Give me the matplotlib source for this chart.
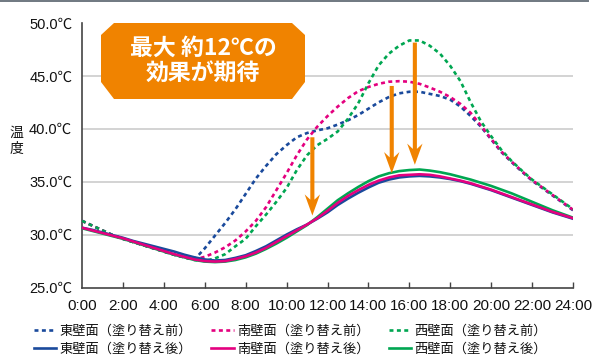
import matplotlib
matplotlib.use("Agg")
import matplotlib.pyplot as plt
from matplotlib.patches import Polygon
from matplotlib.lines import Line2D
import numpy as np

# ---------------- data ----------------
hours = [h * 0.5 for h in range(49)]  # 0:00 .. 24:00 every 30 min

east_before = [31.3, 30.85, 30.4, 29.95, 29.6, 29.3, 29.0, 28.7, 28.4, 28.1, 27.85, 27.65,
               28.7, 29.9, 31.1, 32.4, 33.85, 35.3, 36.5, 37.6, 38.45, 39.2, 39.6, 39.85,
               40.05, 40.4, 40.8, 41.3, 41.9, 42.5, 43.0, 43.35, 43.5, 43.5, 43.3, 43.1,
               42.75, 42.1, 41.2, 40.2, 39.0, 37.8, 36.85, 35.95, 35.1, 34.4, 33.7, 33.0, 32.3]
south_before = [31.3, 30.85, 30.4, 29.95, 29.6, 29.3, 29.0, 28.7, 28.4, 28.1, 27.85, 27.65,
                27.9, 28.3, 28.8, 29.45, 30.3, 31.3, 32.6, 34.2, 35.8, 37.5, 39.0, 40.2,
                41.2, 42.1, 42.9, 43.55, 43.95, 44.25, 44.45, 44.5, 44.45, 44.25, 43.9, 43.5,
                43.0, 42.35, 41.5, 40.3, 39.05, 37.85, 36.9, 36.0, 35.15, 34.45, 33.75, 33.05, 32.35]
west_before = [31.3, 30.85, 30.4, 29.95, 29.6, 29.3, 29.0, 28.7, 28.4, 28.1, 27.85, 27.6,
               27.5, 27.75, 28.15, 28.9, 29.6, 30.8, 31.9, 33.1, 34.4, 36.1, 37.5, 38.45,
               39.05, 39.75, 40.95, 42.4, 44.3, 46.0, 47.1, 47.85, 48.35, 48.35, 47.85, 47.1,
               45.95, 44.5, 42.5, 40.7, 39.3, 38.0, 36.95, 36.05, 35.2, 34.5, 33.8, 33.1, 32.4]
east_after = [30.65, 30.45, 30.2, 29.95, 29.7, 29.4, 29.15, 28.9, 28.65, 28.4, 28.1, 27.85,
              27.65, 27.55, 27.6, 27.8, 28.05, 28.45, 28.9, 29.45, 30.0, 30.5, 30.95, 31.5,
              32.1, 32.8, 33.4, 33.95, 34.45, 34.9, 35.2, 35.4, 35.5, 35.55, 35.5, 35.4,
              35.25, 35.05, 34.8, 34.5, 34.2, 33.85, 33.5, 33.15, 32.8, 32.45, 32.1, 31.8, 31.5]
south_after = [30.65, 30.4, 30.15, 29.9, 29.65, 29.35, 29.05, 28.75, 28.45, 28.15, 27.9, 27.65,
               27.5, 27.45, 27.5, 27.7, 27.95, 28.3, 28.75, 29.3, 29.85, 30.4, 30.95, 31.55,
               32.25, 33.0, 33.65, 34.2, 34.7, 35.1, 35.4, 35.6, 35.65, 35.7, 35.65, 35.5,
               35.3, 35.1, 34.85, 34.55, 34.25, 33.9, 33.55, 33.2, 32.85, 32.5, 32.15, 31.85, 31.55]
west_after = [30.6, 30.35, 30.1, 29.85, 29.6, 29.3, 29.0, 28.7, 28.4, 28.1, 27.85, 27.6,
              27.45, 27.4, 27.45, 27.6, 27.85, 28.2, 28.65, 29.15, 29.7, 30.3, 30.9, 31.65,
              32.45, 33.25, 33.9, 34.5, 35.05, 35.5, 35.8, 36.0, 36.1, 36.15, 36.05, 35.9,
              35.7, 35.45, 35.2, 34.9, 34.6, 34.25, 33.9, 33.5, 33.1, 32.7, 32.3, 31.95, 31.6]

labels_before = ["東壁面（塗り替え前）", "南壁面（塗り替え前）", "西壁面（塗り替え前）"]
labels_after = ["東壁面（塗り替え後）", "南壁面（塗り替え後）", "西壁面（塗り替え後）"]

x_ticks = list(range(0, 25, 2))
x_ticklabels = [f"{h}:00" for h in x_ticks]
y_ticks = [25, 30, 35, 40, 45, 50]
y_ticklabels = [f"{v:.1f}℃" for v in y_ticks]

# arrows: (hour, from temp, to temp)
arrow_x = [11.26, 15.14, 16.27]
arrow_from = [39.2, 44.05, 48.15]
arrow_to = [31.8, 35.8, 36.6]

callout_text = "最大 約12℃の\n効果が期待"

# ---------------- style ----------------
BLUE = "#1a4a9c"
PINK = "#e4007f"
GREEN = "#00a651"
ORANGE = "#f08300"
colors = [BLUE, PINK, GREEN]

plt.rcParams["font.family"] = ["Liberation Sans", "Noto Sans CJK JP", "DejaVu Sans"]

W, H = 597, 362
fig = plt.figure(figsize=(W / 100, H / 100), dpi=100)
ax = fig.add_axes([82 / W, 1 - 287.5 / H, (573 - 82) / W, (287.5 - 23) / H])

ax.set_xlim(0, 24)
ax.set_ylim(25, 50)

# grid lines (inner ticks only)
ax.hlines(y_ticks[1:-1], 0, 24, colors="#cccccc", lw=1.2, zorder=0)

before = [east_before, south_before, west_before]
after = [east_after, south_after, west_after]
handles_b, handles_a = [], []
for ser, c, lab in zip(before, colors, labels_before):
    l, = ax.plot(hours, ser, color=c, lw=1.9, linestyle=(0, (1.5, 1.3)),
                 dash_capstyle="butt", label=lab, zorder=3)
    handles_b.append(l)
for ser, c, lab, z in zip(after, colors, labels_after, [3, 3.2, 3.1]):
    l, = ax.plot(hours, ser, color=c, lw=1.9, label=lab, zorder=z,
                 solid_joinstyle="round")
    handles_a.append(l)

# arrows
for xa, y0, y1 in zip(arrow_x, arrow_from, arrow_to):
    ax.arrow(xa, y0, 0, y1 - y0, width=0.2, head_width=0.75, head_length=2.0,
             length_includes_head=True, overhang=0.25, color=ORANGE, lw=0, zorder=5)

# callout box (octagon in axes-fraction coordinates)
bx0, bx1 = (101 - 82) / 491, (305 - 82) / 491
by0, by1 = (287.5 - 99) / 264.5, 1.0
cx, cyt, cyb = 13 / 491, 12 / 264.5, 17 / 264.5
poly = Polygon([(bx0 + cx, by1), (bx1 - cx, by1), (bx1, by1 - cyt), (bx1, by0 + cyb),
                (bx1 - cx, by0), (bx0 + cx, by0), (bx0, by0 + cyb), (bx0, by1 - cyt)],
               closed=True, transform=ax.transAxes, facecolor=ORANGE, edgecolor="none",
               clip_on=False, zorder=6)
ax.add_patch(poly)
ax.text((bx0 + bx1) / 2, (by0 + by1) / 2, callout_text, transform=ax.transAxes,
        ha="center", va="center", color="white", fontsize=16.5, fontweight="bold",
        family=["Noto Sans CJK JP"], linespacing=1.1, zorder=7)

# axes styling
for s in ["top", "right"]:
    ax.spines[s].set_visible(False)
for s in ["left", "bottom"]:
    ax.spines[s].set_color("#444444")
    ax.spines[s].set_linewidth(1.2)

ax.set_xticks(x_ticks)
ax.set_xticklabels(x_ticklabels)
ax.set_yticks(y_ticks)
ax.set_yticklabels(y_ticklabels)
ax.tick_params(axis="x", direction="in", length=4.5, width=1, color="#444444",
               labelsize=11, pad=8, labelcolor="#111111")
ax.tick_params(axis="y", length=0, labelsize=10.5, pad=7, labelcolor="#111111")
ax.xaxis.get_majorticklines()[0].set_visible(False)

fig.text(16 / W, 1 - 141 / H, "温\n度", ha="center", va="center", fontsize=10,
         family=["Noto Sans CJK JP"], linespacing=1.15, color="#111111")

# legend
order = []
for hb, ha_ in zip(handles_b, handles_a):
    order += [hb, ha_]
leg = fig.legend(order, [h.get_label() for h in order], loc="upper left",
                 bbox_to_anchor=(34 / W, 1 - 325 / H), ncol=3, frameon=False,
                 borderaxespad=0, borderpad=0, handlelength=1.7, handletextpad=0.25,
                 columnspacing=1.45, labelspacing=0.35,
                 prop={"family": ["Noto Sans CJK JP"], "size": 9.5})
for t in leg.get_texts():
    t.set_color("#111111")

# top border line
fig.add_artist(Line2D([0, 588 / W], [1 - 0.8 / H, 1 - 0.8 / H], transform=fig.transFigure,
                      color="#6f7880", lw=1.4))

fig.savefig("out.png", dpi=100)
